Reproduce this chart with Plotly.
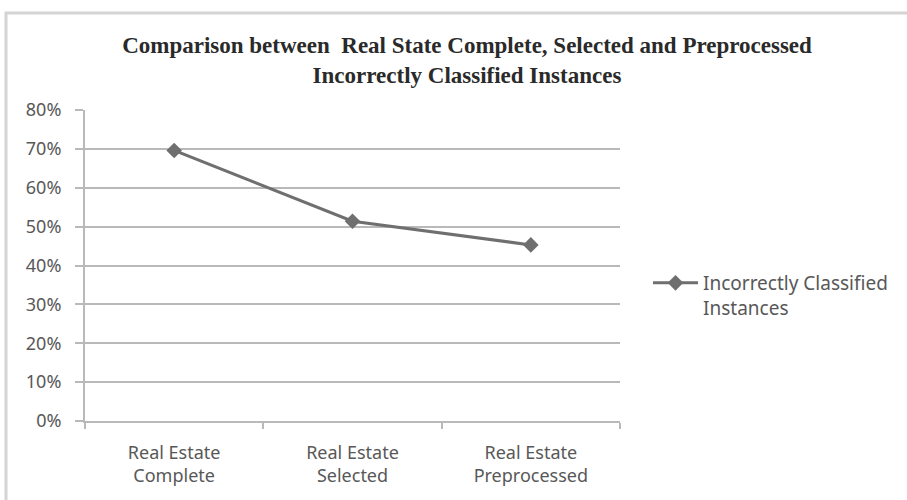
import plotly.graph_objects as go

# Data
categories = ["Real Estate<br>Complete", "Real Estate<br>Selected", "Real Estate<br>Preprocessed"]
incorrect_pct = [69.6, 51.4, 45.3]
series_name = "Incorrectly Classified<br>Instances"
y_ticks = [0, 10, 20, 30, 40, 50, 60, 70, 80]
y_tick_labels = ["0%", "10%", "20%", "30%", "40%", "50%", "60%", "70%", "80%"]

W, H = 907, 500
L, R, T, B = 85, 287, 110, 79  # plot area margins in px
pw, ph = W - L - R, H - T - B


def px_x(x):
    return (x - L) / pw


def px_y(y):
    return (H - B - y) / ph


text_color = "#585858"
axis_font = dict(family="Noto Sans", size=18, color=text_color)
legend_font = dict(family="Noto Sans", size=19, color=text_color)
line_color = "#6f6f6f"
grid_color = "#b9b9b9"

fig = go.Figure()
fig.add_trace(go.Scatter(
    x=categories,
    y=incorrect_pct,
    mode="lines+markers",
    name=series_name,
    line=dict(color=line_color, width=3),
    marker=dict(symbol="diamond", size=12, color=line_color),
))

fig.update_layout(
    width=W,
    height=H,
    margin=dict(l=L, r=R, t=T, b=B),
    paper_bgcolor="white",
    plot_bgcolor="white",
    title=dict(
        text="Comparison between  Real State Complete, Selected and Preprocessed<br>Incorrectly Classified Instances",
        font=dict(family="Liberation Serif", size=23, color="#2a2a2a", weight="bold"),
        x=467 / W, xref="container", xanchor="center",
        y=1 - 53 / H, yref="container", yanchor="middle",
    ),
    showlegend=True,
    legend=dict(
        x=px_x(648), y=px_y(264), xanchor="left", yanchor="top",
        font=legend_font, valign="top", itemwidth=45,
        bgcolor="rgba(0,0,0,0)",
    ),
    xaxis=dict(
        type="category",
        showgrid=False,
        showline=True, linecolor=grid_color, linewidth=2,
        ticks="outside", tickson="boundaries", ticklen=6, tickcolor=grid_color, tickwidth=2,
        tickfont=axis_font,
        ticklabelstandoff=14,
        range=[-0.5, 2.5],
        fixedrange=True,
    ),
    yaxis=dict(
        range=[0, 80],
        tickvals=y_ticks,
        ticktext=y_tick_labels,
        showgrid=True, gridcolor=grid_color, gridwidth=2,
        showline=True, linecolor=grid_color, linewidth=2,
        ticks="outside", ticklen=8, tickcolor=grid_color, tickwidth=2,
        tickfont=axis_font,
        ticklabelstandoff=10,
        zeroline=False,
        fixedrange=True,
    ),
    shapes=[
        # chart frame
        dict(type="rect", xref="paper", yref="paper",
             x0=px_x(6), x1=px_x(925), y0=px_y(515), y1=px_y(13),
             line=dict(color="#d4d4d4", width=3), fillcolor="rgba(0,0,0,0)", layer="below"),
    ],
)

fig.write_html("out.html")
